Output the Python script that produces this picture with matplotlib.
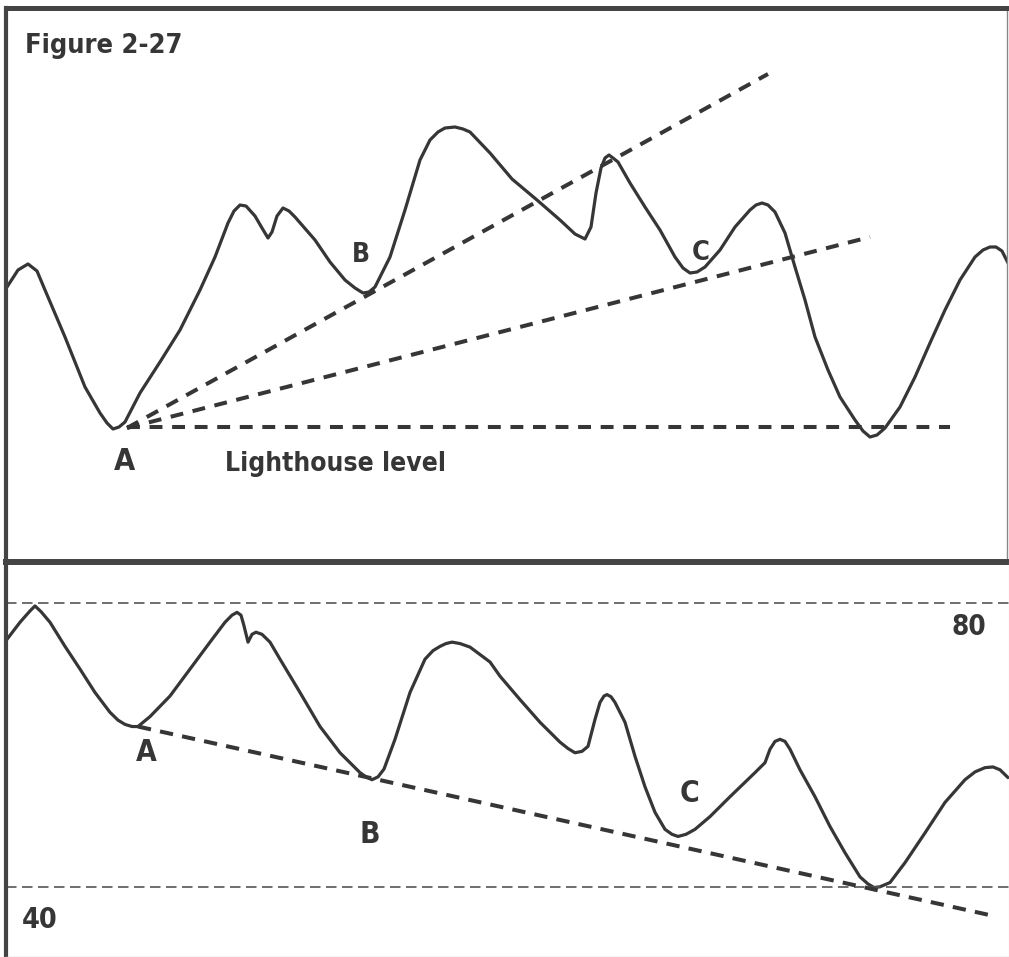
import matplotlib
matplotlib.use('Agg')
import matplotlib.pyplot as plt
from matplotlib import font_manager as fm

# top panel: price path (time units, price units)
price_t = [7, 18, 28, 37, 45, 65, 85, 100, 107, 113, 119, 125, 140, 160, 180, 200, 215, 228, 234,
           240, 246, 255, 262, 268, 272, 277, 283, 289, 295, 315, 330, 345, 355, 363, 369, 375, 390,
           405, 420, 430, 438, 445, 455, 463, 470, 490, 512, 537, 560, 575, 585, 591, 596, 601,
           605, 609, 613, 618, 630, 645, 660, 675, 683, 690, 697, 705, 720, 735, 750, 756, 762,
           768, 775, 785, 795, 805, 815, 828, 840, 855, 863, 870, 877, 885, 900, 915, 930, 945,
           960, 975, 983, 990, 996, 1002, 1008]
price = [275, 292, 298, 291, 272, 225, 175, 149, 139, 133, 135, 140, 169, 200, 232, 272, 305, 339,
         351, 357, 356, 346, 334, 324, 330, 346, 354, 351, 345, 322, 300, 282, 274, 269, 270, 275,
         305, 352, 402, 422, 430, 434, 435, 433, 430, 409, 383, 362, 342, 328, 323, 335, 369, 394,
         404, 407, 404, 400, 379, 355, 332, 305, 294, 289, 290, 295, 312, 335, 352, 357, 359,
         357, 350, 329, 295, 262, 225, 192, 165, 142, 131, 125, 127, 134, 155, 185, 219, 252,
         282, 305, 312, 315, 315, 311, 299]

# trend lines from point A (start time, start price, end time, end price)
lines_top = [(127, 134, 768, 488),   # through B
             (127, 134, 870, 325),   # through C
             (127, 135, 950, 135)]   # lighthouse level

# bottom panel: oscillator
osc_t = [7, 20, 30, 35, 41, 50, 65, 80, 95, 110, 118, 125, 132, 138, 150, 170, 190, 210, 225, 232,
         237, 241, 244, 248, 252, 256, 262, 270, 280, 300, 320, 340, 360, 366, 372, 378, 384, 395,
         410, 425, 433, 440, 446, 452, 460, 470, 490, 500, 520, 540, 560, 568, 575, 582, 588, 595,
         600, 604, 607, 611, 615, 625, 635, 645, 655, 665, 672, 678, 686, 695, 710, 730, 755, 765,
         770, 775, 780, 785, 790, 800, 815, 830, 845, 860, 868, 874, 880, 890, 905, 925, 945, 965,
         975, 985, 993, 1000, 1008]
osc = [74.9, 77.3, 78.9, 79.6, 78.8, 77.3, 73.9, 70.7, 67.4, 64.6, 63.5, 62.9, 62.6, 62.6, 64.0,
       66.9, 70.7, 74.5, 77.3, 78.3, 78.7, 78.3, 76.8, 74.5, 75.6, 75.9, 75.6, 74.5, 72.1, 67.4,
       62.6, 58.9, 56.1, 55.5, 55.1, 55.5, 56.6, 60.8, 67.4, 72.1, 73.3, 73.9, 74.3, 74.5, 74.3,
       73.8, 71.7, 69.7, 66.4, 63.2, 60.4, 59.5, 58.9, 59.1, 59.8, 63.6, 66.0, 66.9, 67.1, 66.8,
       66.0, 63.2, 58.4, 54.1, 50.5, 48.1, 47.4, 47.1, 47.4, 48.1, 49.9, 52.7, 56.1, 57.5, 59.4,
       60.5, 60.8, 60.5, 59.4, 56.5, 52.7, 48.5, 44.8, 41.4, 40.4, 39.9, 40.0, 40.6, 43.4, 47.6,
       51.9, 55.1, 56.2, 56.8, 56.9, 56.5, 55.4]
osc_line = (138, 62.6, 990, 36.0)
levels = [80, 40]

ink = '#363636'

# a narrow bold face like the original lettering, if one is installed
narrow = None
for f in fm.fontManager.ttflist:
    if 'Narrow' in f.name or 'Condensed' in f.name or f.stretch in ('condensed', 'semi-condensed'):
        narrow = f
        break
if narrow is not None:
    font = dict(family=[narrow.name, 'DejaVu Sans'], stretch=narrow.stretch, weight='bold')
else:
    font = dict(family=['Liberation Sans', 'DejaVu Sans'], weight='bold')

fig = plt.figure(figsize=(10.09, 9.57), dpi=100)
H = 957.0
W = 1009.0
ax1 = fig.add_axes([6 / W, (H - 562) / H, 1001 / W, (562 - 8) / H])
ax2 = fig.add_axes([6 / W, 0, 1003 / W, 395 / H])

# top panel
ax1.plot(price_t, price, color=ink, lw=2.3, solid_joinstyle='round', solid_capstyle='round')
for x0, y0, x1, y1 in lines_top:
    ax1.plot([x0, x1], [y0, y1], color=ink, lw=2.9, dashes=(3.2, 2.4))
ax1.set_xlim(6, 1007)
ax1.set_ylim(0, 554)

ax1.text(25, 509, 'Figure 2-27', size=19.5, color=ink, **font)
ax1.text(225, 91, 'Lighthouse level', size=19, color=ink, **font)
ax1.text(124, 92, 'A', size=22, color=ink, ha='center', **font)
ax1.text(361, 300, 'B', size=19, color=ink, ha='center', **font)
ax1.text(701, 302, 'C', size=19.5, color=ink, ha='center', **font)

# bottom panel
ax2.plot(osc_t, osc, color=ink, lw=2.3, solid_joinstyle='round', solid_capstyle='round')
for lv in levels:
    ax2.axhline(lv, color='#555555', lw=1.2, dashes=(6.3, 3.3))
x0, y0, x1, y1 = osc_line
ax2.plot([x0, x1], [y0, y1], color=ink, lw=2.9, dashes=(3.3, 2.3))
ax2.set_xlim(6, 1009)
ax2.set_ylim(30.1, 85.8)

ax2.text(146, 57.7, 'A', size=21.5, color=ink, ha='center', **font)
ax2.text(370, 46.2, 'B', size=21.5, color=ink, ha='center', **font)
ax2.text(690, 52.0, 'C', size=21.5, color=ink, ha='center', **font)
ax2.text(969, 75.5, '80', size=20, color=ink, ha='center', **font)
ax2.text(40, 34.2, '40', size=20.5, color=ink, ha='center', **font)

for ax in (ax1, ax2):
    ax.set_xticks([])
    ax.set_yticks([])
    ax.patch.set_visible(False)

ax1.spines['left'].set_linewidth(3.0)
ax1.spines['top'].set_linewidth(3.6)
ax1.spines['bottom'].set_linewidth(4.3)
ax1.spines['right'].set_linewidth(1.0)
ax1.spines['right'].set_color('#888888')
for s in ('left', 'top', 'bottom'):
    ax1.spines[s].set_color('#444444')

ax2.spines['left'].set_linewidth(3.0)
ax2.spines['left'].set_color('#444444')
ax2.spines['top'].set_visible(False)
ax2.spines['right'].set_linewidth(0.8)
ax2.spines['right'].set_color('#cccccc')
ax2.spines['bottom'].set_linewidth(1.0)
ax2.spines['bottom'].set_color('#cccccc')

fig.savefig('out.png', dpi=100)
